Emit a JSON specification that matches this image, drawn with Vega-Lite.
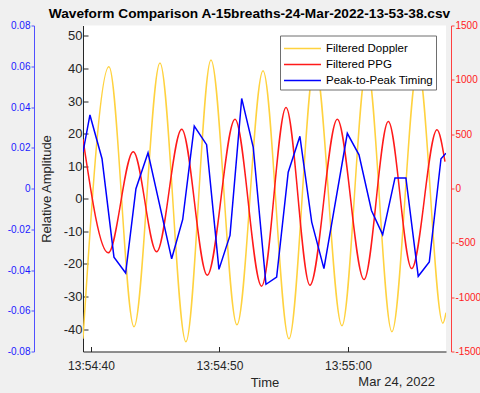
{
  "$schema": "https://vega.github.io/schema/vega-lite/v6.json",
  "width": 363,
  "height": 326,
  "autosize": {"type": "none"},
  "padding": {"left": 83, "top": 25.5, "right": 34, "bottom": 41.5},
  "background": "#F0F0F0",
  "view": {"fill": "white", "stroke": null},
  "config": {"font": "Liberation Sans", "axis": {"grid": false}},
  "title": {"text": "Waveform Comparison A-15breaths-24-Mar-2022-13-53-38.csv", "fontSize": 13.7, "fontWeight": "bold", "color": "#000000", "anchor": "middle", "dx": -15, "offset": 0, "font": "Liberation Sans"},
  "datasets": {
    "doppler": [
      {"series": "Filtered Doppler", "t": "2022-03-24T13:54:39.380", "v": -43},
      {"series": "Filtered Doppler", "t": "2022-03-24T13:54:41.400", "v": 40.5},
      {"series": "Filtered Doppler", "t": "2022-03-24T13:54:43.350", "v": -39.3},
      {"series": "Filtered Doppler", "t": "2022-03-24T13:54:45.370", "v": 41.7},
      {"series": "Filtered Doppler", "t": "2022-03-24T13:54:47.390", "v": -43.9},
      {"series": "Filtered Doppler", "t": "2022-03-24T13:54:49.340", "v": 42.6},
      {"series": "Filtered Doppler", "t": "2022-03-24T13:54:51.360", "v": -38.7},
      {"series": "Filtered Doppler", "t": "2022-03-24T13:54:53.390", "v": 39.3},
      {"series": "Filtered Doppler", "t": "2022-03-24T13:54:55.410", "v": -43},
      {"series": "Filtered Doppler", "t": "2022-03-24T13:54:57.430", "v": 42},
      {"series": "Filtered Doppler", "t": "2022-03-24T13:54:59.530", "v": -39},
      {"series": "Filtered Doppler", "t": "2022-03-24T13:55:01.480", "v": 41},
      {"series": "Filtered Doppler", "t": "2022-03-24T13:55:03.420", "v": -40.8},
      {"series": "Filtered Doppler", "t": "2022-03-24T13:55:05.450", "v": 41},
      {"series": "Filtered Doppler", "t": "2022-03-24T13:55:07.390", "v": -38.2},
      {"series": "Filtered Doppler", "t": "2022-03-24T13:55:07.630", "v": -35}
    ],
    "ppg": [
      {"series": "Filtered PPG", "t": "2022-03-24T13:54:39.380", "v": 454},
      {"series": "Filtered PPG", "t": "2022-03-24T13:54:41.350", "v": -592},
      {"series": "Filtered PPG", "t": "2022-03-24T13:54:43.290", "v": 339},
      {"series": "Filtered PPG", "t": "2022-03-24T13:54:45.110", "v": -583},
      {"series": "Filtered PPG", "t": "2022-03-24T13:54:47.060", "v": 546},
      {"series": "Filtered PPG", "t": "2022-03-24T13:54:49.050", "v": -798},
      {"series": "Filtered PPG", "t": "2022-03-24T13:54:51.210", "v": 638},
      {"series": "Filtered PPG", "t": "2022-03-24T13:54:53.280", "v": -899},
      {"series": "Filtered PPG", "t": "2022-03-24T13:54:55.180", "v": 745},
      {"series": "Filtered PPG", "t": "2022-03-24T13:54:57.040", "v": -890},
      {"series": "Filtered PPG", "t": "2022-03-24T13:54:59.170", "v": 638},
      {"series": "Filtered PPG", "t": "2022-03-24T13:55:01.250", "v": -838},
      {"series": "Filtered PPG", "t": "2022-03-24T13:55:03.140", "v": 616},
      {"series": "Filtered PPG", "t": "2022-03-24T13:55:04.960", "v": -736},
      {"series": "Filtered PPG", "t": "2022-03-24T13:55:06.930", "v": 540},
      {"series": "Filtered PPG", "t": "2022-03-24T13:55:07.550", "v": 247}
    ],
    "timing": [
      {"series": "Peak-to-Peak Timing", "t": "2022-03-24T13:54:39.380", "v": 0.0178},
      {"series": "Peak-to-Peak Timing", "t": "2022-03-24T13:54:39.920", "v": 0.0361},
      {"series": "Peak-to-Peak Timing", "t": "2022-03-24T13:54:40.860", "v": 0.0146},
      {"series": "Peak-to-Peak Timing", "t": "2022-03-24T13:54:41.790", "v": -0.0337},
      {"series": "Peak-to-Peak Timing", "t": "2022-03-24T13:54:42.700", "v": -0.0415},
      {"series": "Peak-to-Peak Timing", "t": "2022-03-24T13:54:43.500", "v": -0.0001},
      {"series": "Peak-to-Peak Timing", "t": "2022-03-24T13:54:44.440", "v": 0.0175},
      {"series": "Peak-to-Peak Timing", "t": "2022-03-24T13:54:46.280", "v": -0.0345},
      {"series": "Peak-to-Peak Timing", "t": "2022-03-24T13:54:47.140", "v": -0.0152},
      {"series": "Peak-to-Peak Timing", "t": "2022-03-24T13:54:48.040", "v": 0.0306},
      {"series": "Peak-to-Peak Timing", "t": "2022-03-24T13:54:49.000", "v": 0.0215},
      {"series": "Peak-to-Peak Timing", "t": "2022-03-24T13:54:49.960", "v": -0.0397},
      {"series": "Peak-to-Peak Timing", "t": "2022-03-24T13:54:50.820", "v": -0.0230},
      {"series": "Peak-to-Peak Timing", "t": "2022-03-24T13:54:51.730", "v": 0.0442},
      {"series": "Peak-to-Peak Timing", "t": "2022-03-24T13:54:52.630", "v": 0.0202},
      {"series": "Peak-to-Peak Timing", "t": "2022-03-24T13:54:53.620", "v": -0.0470},
      {"series": "Peak-to-Peak Timing", "t": "2022-03-24T13:54:54.450", "v": -0.0435},
      {"series": "Peak-to-Peak Timing", "t": "2022-03-24T13:54:55.350", "v": 0.0080},
      {"series": "Peak-to-Peak Timing", "t": "2022-03-24T13:54:56.260", "v": 0.0256},
      {"series": "Peak-to-Peak Timing", "t": "2022-03-24T13:54:57.180", "v": -0.0165},
      {"series": "Peak-to-Peak Timing", "t": "2022-03-24T13:54:58.130", "v": -0.0393},
      {"series": "Peak-to-Peak Timing", "t": "2022-03-24T13:54:59.950", "v": 0.0271},
      {"series": "Peak-to-Peak Timing", "t": "2022-03-24T13:55:00.860", "v": 0.0165},
      {"series": "Peak-to-Peak Timing", "t": "2022-03-24T13:55:01.830", "v": -0.0108},
      {"series": "Peak-to-Peak Timing", "t": "2022-03-24T13:55:02.700", "v": -0.0226},
      {"series": "Peak-to-Peak Timing", "t": "2022-03-24T13:55:03.660", "v": 0.0052},
      {"series": "Peak-to-Peak Timing", "t": "2022-03-24T13:55:04.510", "v": 0.0052},
      {"series": "Peak-to-Peak Timing", "t": "2022-03-24T13:55:05.470", "v": -0.0431},
      {"series": "Peak-to-Peak Timing", "t": "2022-03-24T13:55:06.330", "v": -0.0361},
      {"series": "Peak-to-Peak Timing", "t": "2022-03-24T13:55:07.240", "v": 0.0146},
      {"series": "Peak-to-Peak Timing", "t": "2022-03-24T13:55:07.630", "v": 0.0173}
    ],
    "datelabel": [{"label": "Mar 24, 2022"}]
  },
  "layer": [
    {
      "data": {"name": "doppler"},
      "mark": {"type": "line", "interpolate": "monotone", "strokeWidth": 1.5, "clip": true},
      "encoding": {
        "x": {
          "field": "t", "type": "temporal",
          "scale": {"domain": [{"year": 2022, "month": 3, "date": 24, "hours": 13, "minutes": 54, "seconds": 39, "milliseconds": 380}, {"year": 2022, "month": 3, "date": 24, "hours": 13, "minutes": 55, "seconds": 7, "milliseconds": 630}]},
          "axis": {
            "values": [
              {"year": 2022, "month": 3, "date": 24, "hours": 13, "minutes": 54, "seconds": 40},
              {"year": 2022, "month": 3, "date": 24, "hours": 13, "minutes": 54, "seconds": 50},
              {"year": 2022, "month": 3, "date": 24, "hours": 13, "minutes": 55, "seconds": 0}
            ],
            "format": "%H:%M:%S", "title": "Time", "tickSize": -5, "labelPadding": 14,
            "labelFontSize": 12, "labelColor": "#262626", "domainColor": "#262626", "tickColor": "#262626",
            "titleFontSize": 13, "titleFontWeight": "normal", "titleColor": "#262626", "titlePadding": 5, "labelFlush": false
          }
        },
        "y": {
          "field": "v", "type": "quantitative",
          "scale": {"domain": [-46.9, 53.2], "nice": false, "zero": false},
          "axis": {
            "orient": "left", "values": [-40, -30, -20, -10, 0, 10, 20, 30, 40, 50],
            "labelExpr": "(datum.value < 0 ? '-' : '') + format(abs(datum.value), 'd')",
            "tickSize": -5, "labelPadding": 6, "labelFontSize": 13, "labelColor": "#262626",
            "domainColor": "#262626", "tickColor": "#262626",
            "title": "Relative Amplitude", "titleFontSize": 13, "titleFontWeight": "normal", "titleColor": "#262626", "titlePadding": 10
          }
        },
        "color": {
          "field": "series", "type": "nominal",
          "scale": {"domain": ["Filtered Doppler", "Filtered PPG", "Peak-to-Peak Timing"], "range": ["#FFD23F", "#FF1A1A", "#0000FF"]},
          "legend": {
            "title": null, "orient": "top-right", "offset": 10, "fillColor": "white", "strokeColor": "#6e6e6e",
            "padding": 3, "symbolType": "M-2,0H2", "symbolSize": 342, "symbolOffset": 9.5, "symbolStrokeWidth": 1.5,
            "labelFontSize": 11.5, "labelColor": "#000000", "labelOffset": 13.5, "rowPadding": -4
          }
        }
      }
    },
    {
      "data": {"name": "ppg"},
      "mark": {"type": "line", "interpolate": "monotone", "strokeWidth": 1.5, "clip": true},
      "encoding": {
        "x": {"field": "t", "type": "temporal", "scale": {"domain": [{"year": 2022, "month": 3, "date": 24, "hours": 13, "minutes": 54, "seconds": 39, "milliseconds": 380}, {"year": 2022, "month": 3, "date": 24, "hours": 13, "minutes": 55, "seconds": 7, "milliseconds": 630}]}},
        "y": {
          "field": "v", "type": "quantitative",
          "scale": {"domain": [-1500, 1500], "nice": false, "zero": false},
          "axis": {
            "orient": "right", "offset": 5, "values": [-1500, -1000, -500, 0, 500, 1000, 1500],
            "labelExpr": "(datum.value < 0 ? '-' : '') + format(abs(datum.value), 'd')",
            "tickSize": 3, "labelPadding": 1, "labelFontSize": 10, "labelColor": "#FF2020",
            "domainColor": "#FF4040", "tickColor": "#FF4040", "title": null
          }
        },
        "color": {"field": "series", "type": "nominal"}
      }
    },
    {
      "data": {"name": "timing"},
      "mark": {"type": "line", "strokeWidth": 1.5, "clip": true},
      "encoding": {
        "x": {"field": "t", "type": "temporal", "scale": {"domain": [{"year": 2022, "month": 3, "date": 24, "hours": 13, "minutes": 54, "seconds": 39, "milliseconds": 380}, {"year": 2022, "month": 3, "date": 24, "hours": 13, "minutes": 55, "seconds": 7, "milliseconds": 630}]}},
        "y": {
          "field": "v", "type": "quantitative",
          "scale": {"domain": [-0.08, 0.08], "nice": false, "zero": false},
          "axis": {
            "orient": "left", "offset": 49, "values": [-0.08, -0.06, -0.04, -0.02, 0, 0.02, 0.04, 0.06, 0.08],
            "labelExpr": "datum.value == 0 ? '0' : (datum.value < 0 ? '-' : '') + format(abs(datum.value), '.2f')",
            "tickSize": 3, "labelPadding": 1, "labelFontSize": 10, "labelColor": "#1A1AFF",
            "domainColor": "#5050FF", "tickColor": "#5050FF", "title": null
          }
        },
        "color": {"field": "series", "type": "nominal"}
      }
    },
    {
      "data": {"name": "datelabel"},
      "mark": {"type": "text", "align": "right", "baseline": "middle", "fontSize": 13, "color": "#262626", "font": "Liberation Sans"},
      "encoding": {
        "x": {"datum": {"year": 2022, "month": 3, "date": 24, "hours": 13, "minutes": 55, "seconds": 6, "milliseconds": 770}, "type": "temporal", "scale": {"domain": [{"year": 2022, "month": 3, "date": 24, "hours": 13, "minutes": 54, "seconds": 39, "milliseconds": 380}, {"year": 2022, "month": 3, "date": 24, "hours": 13, "minutes": 55, "seconds": 7, "milliseconds": 630}]}},
        "y": {"datum": -56.3, "type": "quantitative", "scale": {"domain": [-46.9, 53.2], "nice": false, "zero": false}, "axis": null},
        "text": {"field": "label"}
      }
    }
  ],
  "resolve": {"scale": {"y": "independent"}, "axis": {"y": "independent"}}
}
